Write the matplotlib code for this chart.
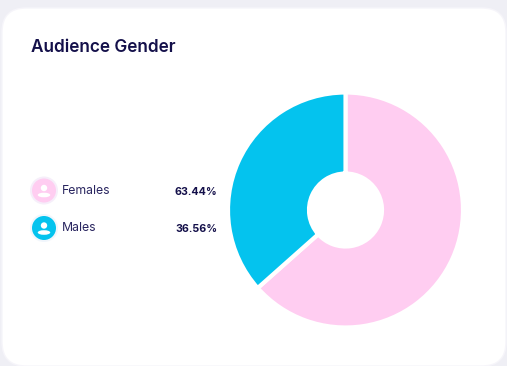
import matplotlib
matplotlib.use('Agg')
import matplotlib.pyplot as plt
from matplotlib.patches import FancyBboxPatch, Circle, Ellipse

# Data
categories = ['Females', 'Males']
shares = [63.44, 36.56]
share_labels = ['63.44%', '36.56%']
colors = ['#FFCDF1', '#04C3EE']
halo_colors = ['#F6EEFA', '#F1F6FC']

W, H = 507, 366
NAVY = '#14104A'

plt.rcParams['font.family'] = ['Inter', 'DejaVu Sans']

fig = plt.figure(figsize=(W / 100, H / 100), dpi=100, facecolor='#EFEFF5')

# Background layer in pixel coordinates
bg = fig.add_axes([0, 0, 1, 1])
bg.set_xlim(0, W)
bg.set_ylim(H, 0)
bg.axis('off')

# White card
card = FancyBboxPatch((2 + 24, 8 + 24), 504 - 48, 358 - 48,
                      boxstyle='round,pad=24,rounding_size=24',
                      facecolor='#FFFFFF', edgecolor='#F6F5FA', linewidth=1)
bg.add_patch(card)

bg.text(31, 47.5, 'Audience Gender', fontsize=12.4, fontweight='semibold', color=NAVY,
        va='center', ha='left')

# Legend rows
row_y = [190.5, 228]
text_y = [191, 228]
for i in range(len(categories)):
    y = row_y[i]
    bg.add_patch(Circle((44, y), 14, facecolor=halo_colors[i], edgecolor='none'))
    bg.add_patch(Circle((44, y), 12, facecolor=colors[i], edgecolor='none'))
    # person icon
    bg.add_patch(Circle((44, y - 2.5), 3.2, facecolor='white', edgecolor='none'))
    bg.add_patch(Ellipse((44, y + 4.5), 12.5, 4.6, facecolor='white', edgecolor='none'))
    bg.text(62, text_y[i], categories[i], fontsize=8.8, color='#2A2660',
            va='center', ha='left')
    bg.text(217.5, text_y[i] + 1, share_labels[i], fontsize=7.7, fontweight='bold',
            color=NAVY, va='center', ha='right')

# Donut, centred at about (345.5, 210) px
R = 117.5
ax = fig.add_axes([(345.5 - R) / W, 1 - (210 + R) / H, 2 * R / W, 2 * R / H])
ax.pie(shares, colors=colors, startangle=90, counterclock=False, radius=1,
       wedgeprops=dict(width=1 - 36.5 / R, edgecolor='white', linewidth=3))
ax.set_xlim(-1, 1)
ax.set_ylim(-1, 1)
ax.set_aspect('equal')

fig.savefig('out.png', dpi=100, facecolor=fig.get_facecolor())
